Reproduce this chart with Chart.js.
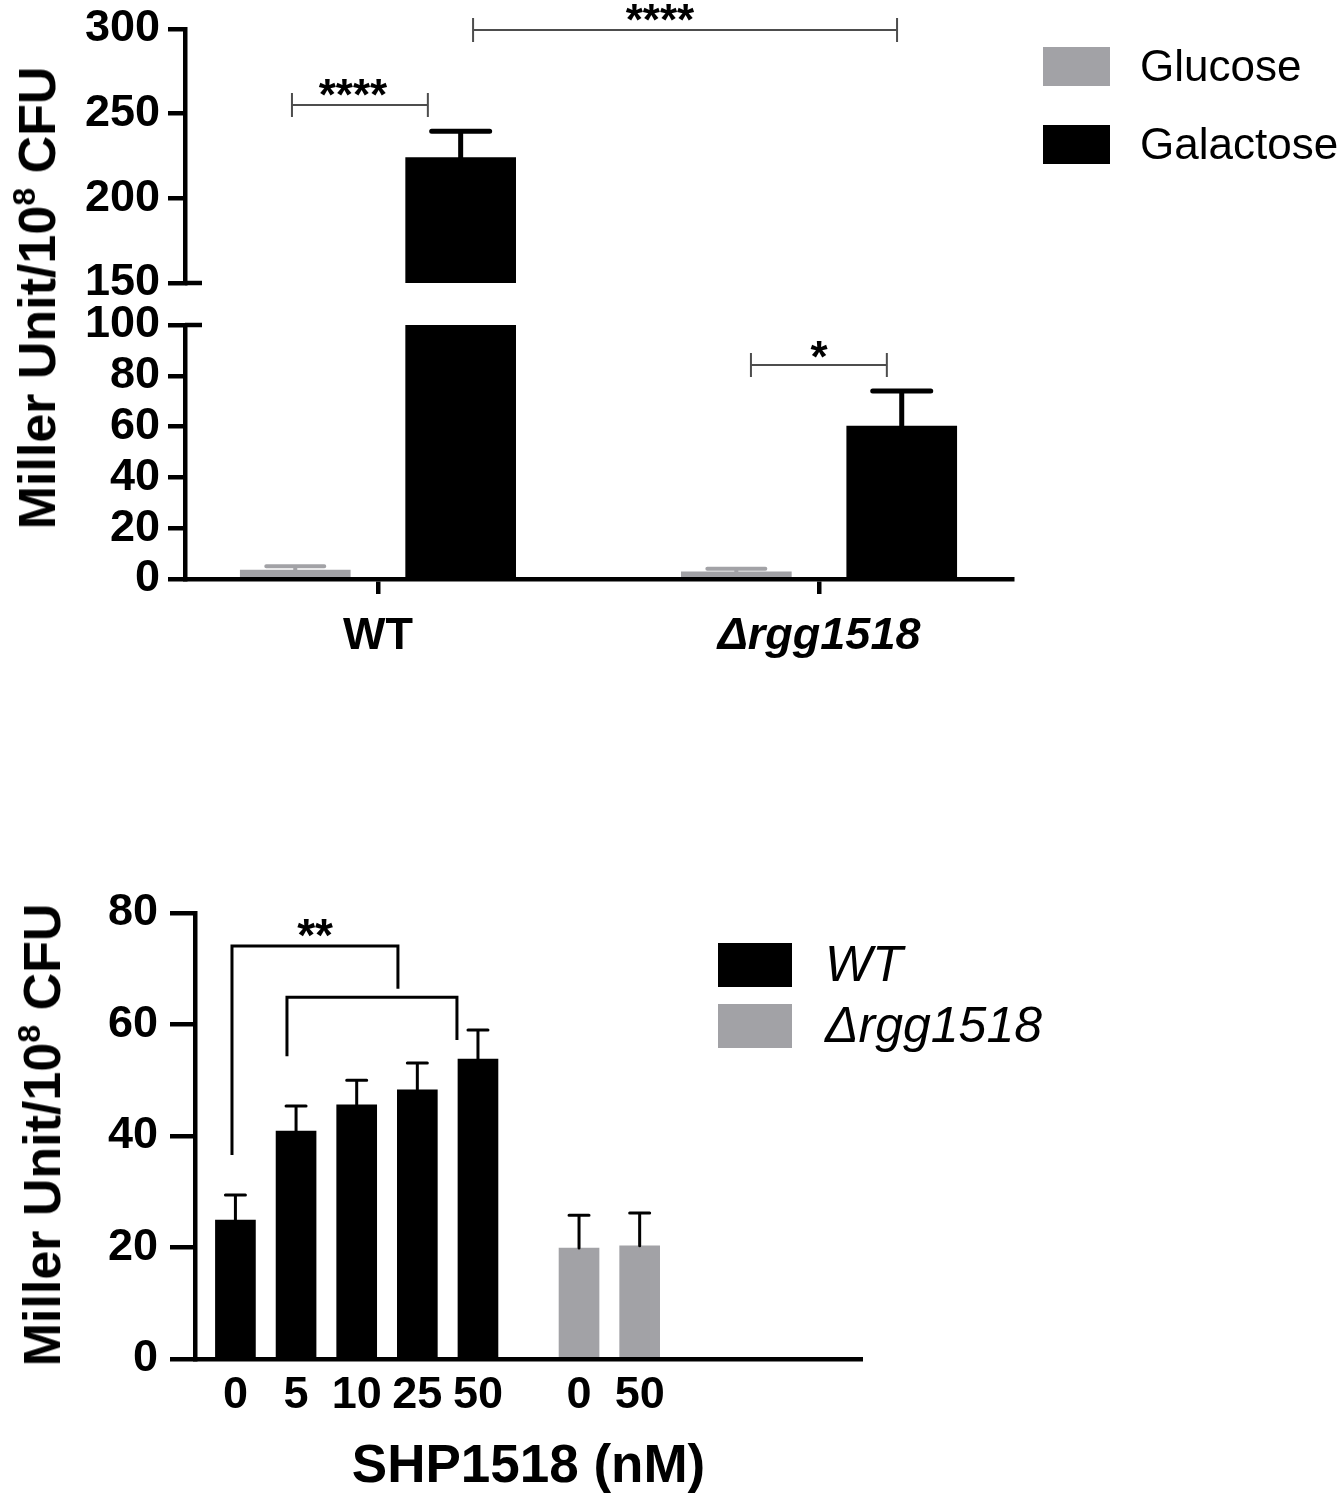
<!DOCTYPE html>
<html>
<head>
<meta charset="utf-8">
<script src="https://cdn.jsdelivr.net/npm/chart.js@4.4.0/dist/chart.umd.min.js"></script>
<style>
  body { margin: 0; background: #fff; width: 1343px; height: 1500px; position: relative; overflow: hidden;
         font-family: "Liberation Sans", Arial, Helvetica, sans-serif; }
  canvas { position: absolute; left: 0; }
  .ytitle { position: absolute; font-weight: bold; font-size: 52px; line-height: 1; white-space: nowrap;
            transform: translate(-50%, -50%) rotate(-90deg); color: #000; }
  .ytitle sup { font-size: 32px; vertical-align: 0; position: relative; top: -20px; }
</style>
</head>
<body>
<canvas id="topUpper" width="1343" height="304" style="top:0"></canvas>
<canvas id="topLower" width="1343" height="376" style="top:304px"></canvas>
<canvas id="dose" width="1343" height="620" style="top:880px"></canvas>
<div class="ytitle" style="left:37px; top:298px">Miller Unit/10<sup>8</sup> CFU</div>
<div class="ytitle" style="left:42px; top:1135px">Miller Unit/10<sup>8</sup> CFU</div>

<script>
const FONT = '"Liberation Sans", Arial, Helvetica, sans-serif'
Chart.defaults.font.family = FONT
Chart.defaults.color = '#000'

// top panel - glucose vs galactose
const strains = ['WT', 'Δrgg1518']
const glucoseMean = [3.5, 2.8]
const glucoseSem = [1.5, 1.2]
const galactoseMean = [224, 60.2]
const galactoseSem = [15.6, 13.8]

// bottom panel - SHP1518 dose
const wtDoses = ['0', '5', '10', '25', '50']
const wtMean = [24.9, 40.9, 45.6, 48.3, 53.8]
const wtSem = [4.5, 4.5, 4.4, 4.8, 5.2]
const mutDoses = ['0', '50']
const mutMean = [19.9, 20.3]
const mutSem = [5.9, 5.9]

const GREY = '#a2a2a6'

// prism leaves uneven gaps, so bars sit on a finer category grid with empty slots
function spread(n, pos, values, empty) {
  let out = new Array(n).fill(empty)
  values.forEach((v, i) => { out[pos(i)] = v })
  return out
}

const TOP_SLOTS = 31
const topBar = k => i => 4 + 16 * i + 6 * k
const topLabels = spread(TOP_SLOTS, i => 7 + 16 * i, strains, '')

const DOSE_SLOTS = 34
const wtPos = i => 2 + 3 * i
const mutPos = i => 19 + 3 * i
const doseLabels = spread(DOSE_SLOTS, wtPos, wtDoses, '')
mutDoses.forEach((d, i) => { doseLabels[mutPos(i)] = d })

function topDatasets() {
  return [
    {
      label: 'Glucose',
      data: spread(TOP_SLOTS, topBar(0), glucoseMean, null),
      err: spread(TOP_SLOTS, topBar(0), glucoseSem, null),
      backgroundColor: GREY, errColor: GREY, errWidth: 4, capWidth: 58,
      barThickness: 110, grouped: false
    },
    {
      label: 'Galactose',
      data: spread(TOP_SLOTS, topBar(1), galactoseMean, null),
      err: spread(TOP_SLOTS, topBar(1), galactoseSem, null),
      backgroundColor: '#000', errColor: '#000', errWidth: 5, capWidth: 58,
      barThickness: 110, grouped: false
    }
  ]
}

const errorBars = {
  id: 'errorBars',
  afterDatasetsDraw(chart) {
    let { ctx } = chart
    let y = chart.scales.y
    chart.data.datasets.forEach((ds, di) => {
      chart.getDatasetMeta(di).data.forEach((bar, i) => {
        let v = ds.data[i]
        let e = ds.err ? ds.err[i] : null
        if (v == null || !e || v < y.min || v > y.max) return
        let top = y.getPixelForValue(v + e)
        ctx.save()
        ctx.strokeStyle = ds.errColor
        ctx.lineWidth = ds.errWidth
        ctx.lineCap = 'round'
        ctx.beginPath()
        ctx.moveTo(bar.x, bar.y)
        ctx.lineTo(bar.x, top)
        ctx.moveTo(bar.x - ds.capWidth / 2, top)
        ctx.lineTo(bar.x + ds.capWidth / 2, top)
        ctx.stroke()
        ctx.restore()
      })
    })
  }
}

function axisBreak(value) {
  return {
    id: 'axisBreak',
    afterDraw(chart) {
      let { ctx } = chart
      let y = chart.scales.y
      let py = y.getPixelForValue(value)
      ctx.save()
      ctx.strokeStyle = '#000'
      ctx.lineWidth = 4.5
      ctx.beginPath()
      ctx.moveTo(y.right, py)
      ctx.lineTo(y.right + 17, py)
      ctx.stroke()
      ctx.restore()
    }
  }
}

function brackets(items, style) {
  return {
    id: 'brackets',
    afterDraw(chart) {
      let { ctx } = chart
      let { x, y } = chart.scales
      items.forEach(b => {
        let x1 = x.getPixelForValue(b.from)
        let x2 = x.getPixelForValue(b.to)
        let yy = y.getPixelForValue(b.at)
        ctx.save()
        ctx.strokeStyle = style.color
        ctx.lineWidth = style.width
        ctx.beginPath()
        if (b.legs) {
          ctx.moveTo(x1, y.getPixelForValue(b.legs[0]))
          ctx.lineTo(x1, yy)
          ctx.lineTo(x2, yy)
          ctx.lineTo(x2, y.getPixelForValue(b.legs[1]))
        } else {
          ctx.moveTo(x1, yy); ctx.lineTo(x2, yy)
          ctx.moveTo(x1, yy - style.tick); ctx.lineTo(x1, yy + style.tick)
          ctx.moveTo(x2, yy - style.tick); ctx.lineTo(x2, yy + style.tick)
        }
        ctx.stroke()
        if (b.text) {
          ctx.fillStyle = '#000'
          ctx.font = style.font
          ctx.textAlign = 'center'
          ctx.textBaseline = 'alphabetic'
          let cy = yy - style.lift
          ctx.fillText(b.text, x.getPixelForValue(b.textAt), cy + style.size * 0.57)
        }
        ctx.restore()
      })
    }
  }
}

function boxLegend(o) {
  return {
    id: 'boxLegend',
    afterDraw(chart) {
      let { ctx } = chart
      chart.data.datasets.forEach((ds, i) => {
        let top = o.y + i * o.step
        ctx.save()
        ctx.fillStyle = ds.backgroundColor
        ctx.fillRect(o.x, top, o.w, o.h)
        ctx.fillStyle = '#000'
        ctx.font = o.font
        ctx.textBaseline = 'middle'
        ctx.textAlign = 'left'
        ctx.fillText(ds.label, o.textX, top + o.h / 2 + 2)
        ctx.restore()
      })
    }
  }
}

const tickFont = { size: 45, weight: 'bold', family: FONT }

function yAxis(min, max, step, width, tickLength, pad) {
  return {
    min: min, max: max,
    ticks: { stepSize: step, autoSkip: false, font: tickFont, color: '#000', padding: pad },
    grid: { drawOnChartArea: false, tickLength: tickLength, color: '#000', lineWidth: 4.5 },
    border: { display: true, color: '#000', width: 4.5 },
    afterFit(s) { s.width = width; s.paddingTop = 0; s.paddingBottom = 0 }
  }
}

// upper segment of the broken axis (150-300)
new Chart(document.getElementById('topUpper'), {
  type: 'bar',
  data: { labels: topLabels, datasets: topDatasets() },
  options: {
    responsive: false, animation: false, devicePixelRatio: 1,
    layout: { padding: { top: 29, bottom: 21, left: 0, right: 331 } },
    plugins: { legend: { display: false }, tooltip: { enabled: false } },
    scales: {
      x: { type: 'category', offset: false, grid: { offset: false }, display: false },
      y: yAxis(150, 300, 50, 185, 17, 8)
    }
  },
  plugins: [
    errorBars, axisBreak(150),
    brackets([
      { from: 3.88, to: 8.81, at: 255.1, text: '****', textAt: 6.09 },
      { from: 10.45, to: 25.83, at: 299.4, text: '****', textAt: 17.23 }
    ], { color: '#4d4d4d', width: 2, tick: 12, lift: 20, font: 'bold 44px ' + FONT, size: 44 }),
    boxLegend({ x: 1043, y: 47, w: 67, h: 39, step: 78, textX: 1140, font: '44px ' + FONT })
  ]
})

// lower segment (0-100)
new Chart(document.getElementById('topLower'), {
  type: 'bar',
  data: { labels: topLabels, datasets: topDatasets() },
  options: {
    responsive: false, animation: false, devicePixelRatio: 1,
    layout: { padding: { top: 21, bottom: 0, left: 0, right: 331 } },
    plugins: { legend: { display: false }, tooltip: { enabled: false } },
    scales: {
      x: {
        type: 'category', offset: false,
        grid: {
          offset: false, drawOnChartArea: false, tickLength: 15, lineWidth: 4.5,
          color: c => (c.tick && c.tick.label ? '#000' : 'rgba(0,0,0,0)')
        },
        border: { display: true, color: '#000', width: 4.5 },
        ticks: {
          autoSkip: false, maxRotation: 0, padding: 16, color: '#000',
          font: c => ({ size: 45, weight: 'bold', family: FONT,
                        style: c.tick && c.tick.label && c.tick.label.startsWith('Δ') ? 'italic' : 'normal' })
        },
        afterFit(s) { s.height = 101; s.paddingLeft = 0; s.paddingRight = 0 }
      },
      y: yAxis(0, 100, 20, 185, 17, 8)
    }
  },
  plugins: [
    errorBars, axisBreak(100),
    brackets([
      { from: 20.53, to: 25.46, at: 84.25, text: '*', textAt: 23.0 }
    ], { color: '#4d4d4d', width: 2, tick: 12, lift: 18, font: 'bold 44px ' + FONT, size: 44 })
  ]
})

// dose response panel
new Chart(document.getElementById('dose'), {
  type: 'bar',
  data: {
    labels: doseLabels,
    datasets: [
      {
        label: 'WT',
        data: spread(DOSE_SLOTS, wtPos, wtMean, null),
        err: spread(DOSE_SLOTS, wtPos, wtSem, null),
        backgroundColor: '#000', errColor: '#000', errWidth: 3, capWidth: 20,
        barThickness: 40, grouped: false
      },
      {
        label: 'Δrgg1518',
        data: spread(DOSE_SLOTS, mutPos, mutMean, null),
        err: spread(DOSE_SLOTS, mutPos, mutSem, null),
        backgroundColor: GREY, errColor: '#000', errWidth: 3, capWidth: 20,
        barThickness: 40, grouped: false
      }
    ]
  },
  options: {
    responsive: false, animation: false, devicePixelRatio: 1,
    layout: { padding: { top: 33, bottom: 0, left: 0, right: 481 } },
    plugins: { legend: { display: false }, tooltip: { enabled: false } },
    scales: {
      x: {
        type: 'category', offset: false,
        grid: { offset: false, display: false, drawTicks: false },
        border: { display: true, color: '#000', width: 4.5 },
        ticks: { autoSkip: false, maxRotation: 0, padding: 10, color: '#000', font: tickFont },
        title: { display: true, text: 'SHP1518 (nM)', color: '#000',
                 font: { size: 53, weight: 'bold', family: FONT }, padding: { top: 0, bottom: 1 } },
        afterFit(s) { s.height = 141; s.paddingLeft = 0; s.paddingRight = 0 }
      },
      y: yAxis(0, 80, 20, 195, 25, 12)
    }
  },
  plugins: [
    errorBars,
    brackets([
      { from: 1.83, to: 10.04, at: 74.1, legs: [36.6, 66.4], text: '**', textAt: 5.94 },
      { from: 4.55, to: 12.96, at: 64.9, legs: [54.3, 57.2] }
    ], { color: '#000', width: 3, tick: 0, lift: 21, font: 'bold 46px ' + FONT, size: 46 }),
    boxLegend({ x: 718, y: 63, w: 74, h: 44, step: 61, textX: 825, font: 'italic 50px ' + FONT })
  ]
})
</script>
</body>
</html>
